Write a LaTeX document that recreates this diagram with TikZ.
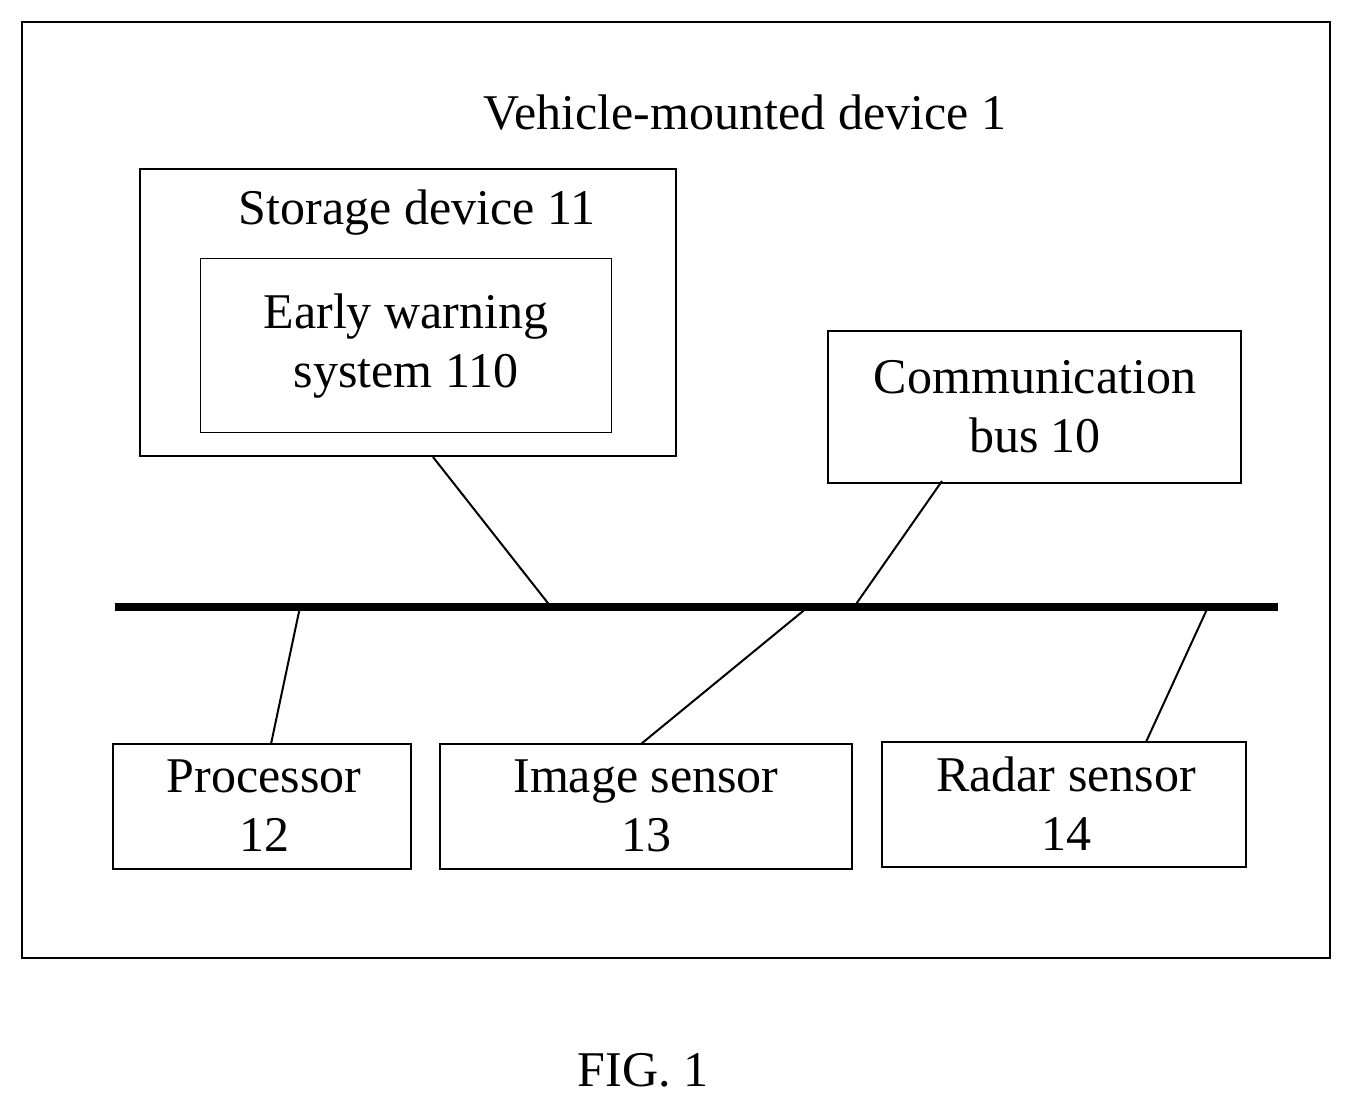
\documentclass[tikz,border=0pt]{standalone}
\usepackage{fontspec}
\setmainfont{Liberation Serif}
\begin{document}
\begin{tikzpicture}[x=1pt,y=-1pt,
  box/.style={draw,line width=2pt,inner sep=0pt},
  lbl/.style={font=\fontsize{50}{59}\selectfont,align=center},
  ln/.style={line width=2pt}]
\useasboundingbox (0,0) rectangle (1352,1108);
\draw[box] (22,22) rectangle (1330,958);
\node[lbl] (title) at (745,113) {Vehicle-mounted device 1};
\draw[box] (140,169) rectangle (676,456);
\coordinate (stor) at (433,457);
\node[lbl] (stlabel) at (417,213) {Storage device 11};
\draw[line width=1pt] (200,258) rectangle (611,432);
\node[lbl] (ews) at (406,346) {Early warning\\system 110};
\draw[box] (828,331) rectangle (1241,483);
\coordinate (comm) at (942,481);
\node[lbl] (cb) at (1035,407) {Communication\\bus 10};
\coordinate (busL) at (115,607);
\coordinate (busR) at (1278,607);
\draw[line width=8pt] (busL) -- (busR);
\draw[box] (113,744) rectangle (411,869);
\node[lbl] (proc) at (264,806) {Processor\\12};
\draw[box] (440,744) rectangle (852,869);
\node[lbl] (img) at (646,806) {Image sensor\\13};
\draw[box] (882,742) rectangle (1246,867);
\node[lbl] (rad) at (1066,804) {Radar sensor\\14};
\coordinate (b1) at (551,607);
\coordinate (b2) at (854,607);
\coordinate (b3) at (300,607);
\coordinate (b4) at (808,607);
\coordinate (b5) at (1208,607);
\coordinate (p) at (271,744);
\coordinate (i) at (641,744);
\coordinate (r) at (1146,742);
\draw[ln] (stor) -- (b1);
\draw[ln] (comm) -- (b2);
\draw[ln] (b3) -- (p);
\draw[ln] (b4) -- (i);
\draw[ln] (b5) -- (r);
\node[lbl] (fig) at (643,1070) {FIG. 1};
\end{tikzpicture}
\end{document}
